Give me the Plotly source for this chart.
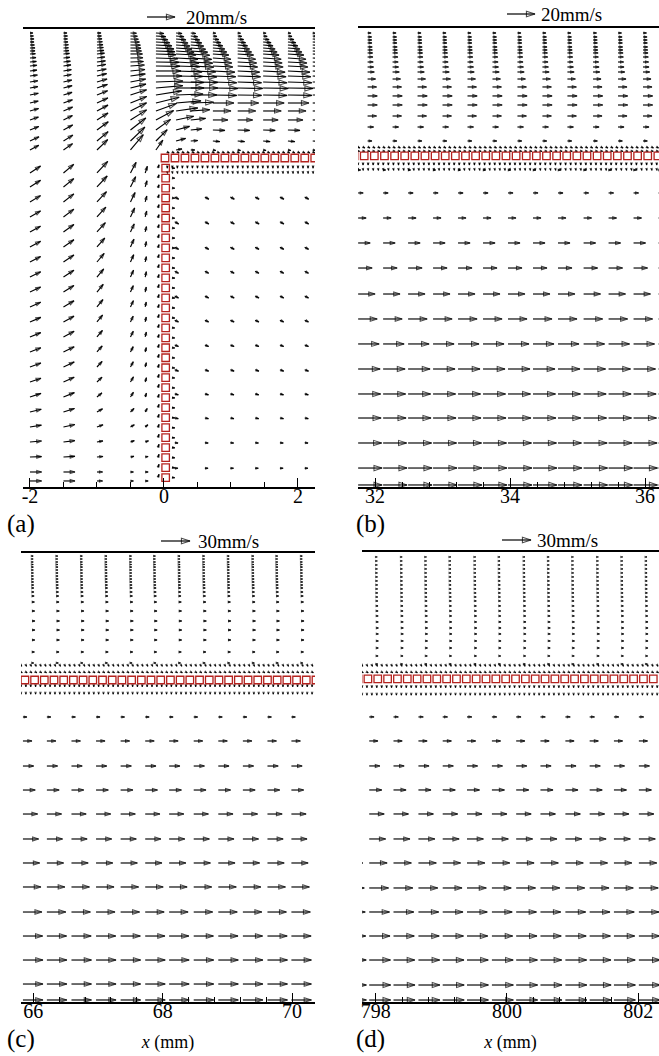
import math
import numpy as np
import plotly.graph_objects as go

W, H = 659, 1056
SERIF = "Liberation Serif, Times New Roman, Times, DejaVu Serif, serif"
INK = "#000000"
RED = "#b5231f"

# plot-area boxes in pixels: left, right, top, bottom
BOX = {"a": (23, 315, 29, 487), "b": (358, 659, 28, 487),
       "c": (21, 315, 553, 1002), "d": (362, 659, 552, 1002)}
XRANGE = {"a": (-2.104, 2.254), "b": (31.748, 36.207),
          "c": (65.81, 70.355), "d": (797.79, 802.317)}
# drawn arrow length (px) per 1 mm/s of velocity
PX_PER_SPEED = {"a": 28 / 20, "b": 28 / 20, "c": 29 / 30, "d": 29 / 30}
REF_SPEED = {"a": 20, "b": 20, "c": 30, "d": 30}

# ---------------------------------------------------------------- panel (a)
# flow above the plate level (rows near the free surface), x in mm
a_top_y = [6.776, 6.731, 6.687, 6.642, 6.597, 6.552, 6.507, 6.463, 6.403, 6.343, 6.284,
           6.209, 6.134, 6.045, 5.955, 5.851, 5.731, 5.612, 5.478, 5.328, 5.164, 5.030]
a_top_x = [-2.0, -1.5, -1.0, -0.5, -0.12, 0.18, 0.40, 0.73, 1.10, 1.48, 1.85, 2.22]
a_far_speed = [2.1, 2.9, 4.3, 5.7, 7.1, 8.6, 10.0, 11.4, 12.9, 13.6, 14.3,
               15.7, 16.4, 17.1, 17.9, 17.1, 15.0, 12.9, 10.7, 8.6, 5.0, 2.1]
a_far_angle = [-6, -6, -6, -5, -5, -5, -4, -4, -4, -3, -3,
               -3, -2, -2, -1, -1, 0, 0, 0, -2, -5, -10]
a_top_speed = [
    [2.1, 2.5, 2.9, 2.9, 3.2, 3.6, 3.6, 3.9, 4.3, 4.6, 5.0, 5.0, 5.4, 5.7, 5.7, 6.1, 6.1, 6.4, 6.4, 6.8, 7.1, 7.1],
    [2.5, 2.9, 2.9, 3.2, 3.6, 3.6, 3.9, 4.3, 4.6, 5.0, 5.4, 5.7, 5.7, 6.1, 6.4, 6.4, 6.8, 7.1, 7.1, 7.5, 7.9, 7.9],
    [2.9, 3.2, 3.6, 3.9, 4.3, 4.6, 5.0, 5.4, 5.7, 6.1, 6.4, 6.8, 7.1, 7.5, 7.9, 8.2, 8.6, 8.9, 9.3, 10.0, 10.4, 10.7],
    [4.3, 5.0, 5.7, 6.4, 7.1, 7.5, 7.9, 8.6, 8.9, 9.3, 10.0, 10.4, 10.7, 11.1, 11.4, 12.1, 12.5, 12.9, 13.6, 13.9, 14.3, 14.3],
    [5.7, 7.1, 8.6, 10.0, 11.4, 12.9, 13.6, 14.3, 15.7, 16.4, 17.1, 17.9, 18.6, 19.3, 19.3, 18.6, 17.1, 15.7, 14.3, 12.9, 11.4, 8.6],
    [4.3, 5.7, 7.1, 8.6, 10.0, 11.4, 12.9, 14.3, 15.7, 16.4, 17.1, 18.6, 19.3, 20.0, 20.0, 19.3, 17.9, 15.7, 12.9, 10.0, 7.1, 4.3],
    [3.6, 5.0, 6.4, 7.9, 9.3, 10.7, 12.1, 13.6, 15.0, 15.7, 16.4, 17.9, 18.6, 19.3, 19.3, 18.6, 16.4, 13.6, 10.7, 7.9, 5.0, 2.9],
    a_far_speed, a_far_speed, a_far_speed, a_far_speed, a_far_speed,
]
a_top_angle = [
    [0, 0, 0, 0, 0, 1, 2, 3, 4, 5, 6, 7, 8, 9, 10, 12, 14, 16, 19, 22, 25, 28],
    [0, 0, 0, 1, 2, 3, 4, 5, 6, 7, 8, 10, 11, 13, 15, 17, 20, 23, 26, 29, 32, 35],
    [0, 0, 1, 2, 3, 4, 5, 6, 7, 8, 10, 12, 14, 16, 19, 22, 25, 28, 32, 36, 40, 44],
    [-2, -2, -2, -1, -1, -1, 0, 0, 1, 2, 4, 6, 8, 11, 14, 18, 22, 27, 32, 38, 44, 50],
    [-4, -4, -4, -3, -3, -3, -2, -2, -2, -1, -1, 0, 0, 2, 5, 9, 14, 20, 28, 36, 45, 55],
    [-5, -5, -5, -5, -4, -4, -4, -3, -3, -3, -2, -2, -1, -1, 0, 2, 5, 8, 12, 15, 15, 10],
    [-6, -6, -6, -5, -5, -5, -4, -4, -4, -3, -3, -2, -2, -1, 0, 0, 2, 4, 6, 6, 4, 0],
    a_far_angle, a_far_angle, a_far_angle, a_far_angle, a_far_angle,
]
# inflow left of the vertical wall, below the plate level
a_low_y = [4.687, 4.478, 4.254, 4.030, 3.806, 3.582, 3.358, 3.134, 2.910, 2.687, 2.463,
           2.239, 2.015, 1.791, 1.567, 1.343, 1.119, 0.896, 0.672, 0.448, 0.224, 0.090]
a_low_x = [-2.0, -1.5, -1.0, -0.5, -0.28]
a_low_speed = [
    [9.0, 8.9, 8.8, 8.7, 8.6, 8.6, 8.5, 8.5, 8.4, 8.4, 8.4, 8.3, 8.3, 8.3, 8.3, 8.3, 8.3, 8.3, 8.3, 8.3, 8.3, 8.3],
    [9.6, 9.5, 9.4, 9.3, 9.2, 9.1, 9.0, 8.9, 8.8, 8.7, 8.6, 8.6, 8.5, 8.5, 8.4, 8.4, 8.3, 8.3, 8.2, 8.2, 8.2, 8.2],
    [11.3, 10.7, 10.0, 9.5, 9.0, 8.5, 8.0, 7.5, 7.1, 6.8, 6.4, 6.1, 5.7, 5.4, 5.0, 4.6, 4.6, 4.6, 4.3, 4.3, 4.0, 4.0],
    [8.6, 8.2, 7.5, 7.1, 6.4, 6.1, 5.7, 5.4, 5.0, 5.0, 4.6, 4.6, 4.3, 4.3, 4.3, 4.0, 3.6, 3.2, 2.9, 2.5, 2.1, 2.1],
    [5.0, 4.6, 4.3, 4.3, 4.0, 4.0, 3.9, 3.9, 3.6, 3.6, 3.6, 3.6, 3.2, 3.2, 3.2, 2.9, 2.9, 2.5, 2.5, 2.1, 2.1, 2.1],
]
a_low_angle = [
    [33, 32, 31, 30, 29, 28, 27, 26, 25, 24, 23, 22, 21, 20, 19, 18, 14, 9, 5, 2, 0, 0],
    [40, 39, 38, 37, 36, 35, 34, 33, 32, 30, 29, 28, 26, 25, 24, 22, 18, 12, 7, 3, 0, 0],
    [47, 47, 47, 48, 48, 49, 50, 50, 51, 51, 51, 50, 49, 47, 44, 40, 30, 20, 10, 5, 0, 0],
    [62, 63, 64, 65, 65, 66, 66, 66, 66, 65, 65, 64, 63, 62, 60, 58, 45, 30, 20, 10, 0, 0],
    [72, 74, 75, 76, 77, 78, 78, 78, 78, 78, 78, 77, 76, 75, 74, 72, 60, 40, 20, 10, 0, 0],
]
# slow region under the plate, right of the wall
a_under_x = [0.16, 0.61, 0.99, 1.36, 1.73, 2.10]
a_under_y = [4.33, 3.96, 3.58, 3.22, 2.85, 2.49, 2.12, 1.75, 1.39, 1.03, 0.66, 0.28]
a_under_speed = [3.3, 3.3, 3.2, 3.1, 3.1, 3.0, 2.9, 2.9, 2.7, 2.6, 2.4, 2.3]
a_under_angle = [-30, -30, -30, -28, -27, -25, -22, -20, -15, -10, -5, 0]
# plate particles: horizontal row and vertical wall
a_plate_y = 4.91
a_plate_x0, a_plate_n = 0.015, 16
a_wall_x = 0.025
a_wall_y0, a_wall_n = 4.76, 32
PLATE_STEP = 0.149
# fluid particles hugging the wall (left, right) and the plate (above, below)
a_wall_left = dict(x=-0.09, speed=2.5, angle=72)
a_wall_right = dict(x=0.12, speed=2.0, angle=-5)
a_near_y = [5.00, 4.79, 4.70]
a_near_speed = [1.5, 1.5, 1.0]
a_near_angle = [-30, -90, -80]
a_near_span = (0.05, 2.25)

# ---------------------------------------------------------------- panel (b)
b_upper_x = [31.89, 32.26, 32.63, 33.00, 33.37, 33.74, 34.11, 34.48, 34.85, 35.23, 35.60, 35.97]
b_upper_y = [6.726, 6.667, 6.622, 6.578, 6.519, 6.474, 6.430, 6.370, 6.296, 6.222, 6.148,
             6.044, 5.926, 5.793, 5.659, 5.496, 5.333, 5.126]
b_upper_u = [2.5, 2.9, 3.0, 3.1, 3.3, 3.4, 3.6, 3.8, 4.0, 4.3, 4.8, 5.7, 6.4, 6.9, 6.9, 6.4, 4.3, 3.1]
b_lower_x = [31.75, 32.12, 32.49, 32.86, 33.23, 33.60, 33.97, 34.34, 34.71, 35.09, 35.46, 35.83, 36.20]
b_lower_y = [4.696, 4.356, 3.985, 3.615, 3.244, 2.859, 2.489, 2.119, 1.748, 1.378, 1.022, 0.652, 0.281, 0.030]
b_lower_u = [1.8, 3.6, 5.7, 8.6, 10.0, 12.1, 13.6, 15.0, 15.7, 16.1, 16.4, 16.8, 17.1, 17.1]
b_plate_y, b_plate_x0, b_plate_n = 4.904, 31.69, 31
b_near_y = [5.037, 4.978, 4.800, 4.711]
b_near_speed = [1.5, 1.2, 1.5, 1.0]
b_near_angle = [-30, -15, -90, -80]

# ---------------------------------------------------------------- panel (c)
c_upper_x = [65.98, 66.36, 66.74, 67.12, 67.50, 67.87, 68.25, 68.63, 69.01, 69.39, 69.76, 70.14]
c_upper_y = [6.894, 6.848, 6.802, 6.763, 6.724, 6.678, 6.632, 6.585, 6.539, 6.493, 6.446,
             6.400, 6.338, 6.276, 6.183, 6.044, 5.890, 5.750, 5.596, 5.411, 5.241]
c_upper_u = [1.2, 1.2, 1.3, 1.3, 1.4, 1.4, 1.5, 1.5, 1.6, 1.7, 1.8, 1.9, 2.0, 2.2, 2.5, 2.8,
             3.0, 3.0, 2.9, 2.5, 1.8]
c_lower_x = [65.84, 66.21, 66.59, 66.97, 67.35, 67.73, 68.10, 68.48, 68.86, 69.24, 69.62, 69.99, 70.37]
c_lower_y = [4.406, 4.035, 3.648, 3.277, 2.906, 2.520, 2.149, 1.778, 1.391, 1.020, 0.649, 0.278, 0.031]
c_lower_u = [4.1, 9.3, 11.1, 12.7, 15.2, 16.2, 17.3, 18.6, 19.6, 20.4, 20.7, 20.7, 20.7]
c_plate_y, c_plate_x0, c_plate_n = 4.978, 65.87, 31
c_near_y = [5.209, 5.101, 4.900, 4.777]
c_near_speed = [1.5, 1.5, 1.8, 1.2]
c_near_angle = [-60, -30, -90, -90]

# ---------------------------------------------------------------- panel (d)
d_upper_x = [798.01, 798.39, 798.76, 799.13, 799.51, 799.88, 800.26, 800.63, 801.00, 801.38, 801.75, 802.12]
d_upper_y = [6.784, 6.723, 6.662, 6.601, 6.540, 6.479, 6.418, 6.357, 6.296, 6.235, 6.174,
             6.113, 6.037, 5.960, 5.884, 5.793, 5.701, 5.610, 5.503, 5.396, 5.274, 5.152]
d_upper_u = [0.8, 0.9, 0.9, 1.0, 1.0, 1.1, 1.1, 1.2, 1.2, 1.3, 1.4, 1.5, 1.6, 1.7, 1.8, 1.9,
             2.0, 2.0, 2.0, 1.9, 1.7, 1.3]
d_lower_x = [797.53, 797.90, 798.27, 798.65, 799.02, 799.39, 799.77, 800.14, 800.51, 800.89, 801.26, 801.63, 802.01]
d_lower_y = [4.345, 3.979, 3.598, 3.232, 2.866, 2.485, 2.119, 1.738, 1.372, 1.006, 0.640, 0.259, 0.030]
d_lower_u = [5.0, 9.0, 11.0, 13.0, 15.5, 17.0, 18.5, 20.0, 21.0, 21.5, 22.0, 22.2, 22.2]
d_plate_y, d_plate_x0, d_plate_n = 4.924, 797.73, 31
d_near_y = [5.137, 5.030, 4.817, 4.695]
d_near_speed = [1.5, 1.5, 1.8, 1.2]
d_near_angle = [-60, -30, -90, -90]

NEAR_STEP = 0.075
AX = {"a": "", "b": "2", "c": "3", "d": "4"}


def px_per_mm(p):
    l, r, t, b = BOX[p]
    x0, x1 = XRANGE[p]
    return (r - l) / (x1 - x0)


def y_top(p):
    l, r, t, b = BOX[p]
    return (b - t) / px_per_mm(p)


class Field:
    """Collects velocity vectors (tail position, speed components) for one panel."""

    def __init__(self, p):
        self.p = p
        self.items = []

    def add(self, x, y, u, v):
        self.items.append((x, y, u, v))

    def add_polar(self, x, y, s, ang):
        a = math.radians(ang)
        self.add(x, y, s * math.cos(a), s * math.sin(a))

    def trace(self):
        p = self.p
        k = PX_PER_SPEED[p] / px_per_mm(p)
        X, Y, S = [], [], []
        for x, y, u, v in self.items:
            L = math.hypot(u, v) * PX_PER_SPEED[p]
            X += [x, x + u * k, None]
            Y += [y, y + v * k, None]
            S += [0, min(8.5, 1.6 + 0.3 * L), 0]
        return go.Scatter(
            x=X, y=Y, mode="lines+markers",
            line=dict(color=INK, width=1.15),
            marker=dict(symbol="arrow-open", size=S, angleref="previous",
                        color=INK, line=dict(color=INK, width=1.05)),
            xaxis="x" + AX[p], yaxis="y" + AX[p],
            hoverinfo="skip", showlegend=False)


def plate_trace(p, xs, ys):
    return go.Scatter(
        x=xs, y=ys, mode="markers",
        marker=dict(symbol="square-open", size=7.5, color=RED, line=dict(color=RED, width=1.3)),
        xaxis="x" + AX[p], yaxis="y" + AX[p], hoverinfo="skip", showlegend=False)


def near_rows(f, span, ys, speeds, angles):
    xs = np.arange(span[0], span[1] + 1e-9, NEAR_STEP)
    for y, s, ang in zip(ys, speeds, angles):
        for x in xs:
            f.add_polar(x, y, s, ang)


traces = []

# ---- (a)
fa = Field("a")
for x, sp, an in zip(a_top_x, a_top_speed, a_top_angle):
    for y, s, ang in zip(a_top_y, sp, an):
        fa.add_polar(x, y, s, ang)
for x, sp, an in zip(a_low_x, a_low_speed, a_low_angle):
    for y, s, ang in zip(a_low_y, sp, an):
        fa.add_polar(x, y, s, ang)
for x in a_under_x:
    for y, s, ang in zip(a_under_y, a_under_speed, a_under_angle):
        fa.add_polar(x, y, s, ang)
wall_y = [a_wall_y0 - PLATE_STEP * i for i in range(a_wall_n)]
for y in wall_y:
    fa.add_polar(a_wall_left["x"], y, a_wall_left["speed"], a_wall_left["angle"])
    fa.add_polar(a_wall_right["x"], y, a_wall_right["speed"], a_wall_right["angle"])
near_rows(fa, a_near_span, a_near_y, a_near_speed, a_near_angle)
traces.append(fa.trace())
plate_x = [a_plate_x0 + PLATE_STEP * i for i in range(a_plate_n)]
traces.append(plate_trace("a", plate_x + [a_wall_x] * a_wall_n,
                          [a_plate_y] * a_plate_n + wall_y))

# ---- (b), (c), (d): developed channel flow
for p, ux, uy, uu, lx, ly, lu, ply, px0, pn, ny, ns, na in [
    ("b", b_upper_x, b_upper_y, b_upper_u, b_lower_x, b_lower_y, b_lower_u,
     b_plate_y, b_plate_x0, b_plate_n, b_near_y, b_near_speed, b_near_angle),
    ("c", c_upper_x, c_upper_y, c_upper_u, c_lower_x, c_lower_y, c_lower_u,
     c_plate_y, c_plate_x0, c_plate_n, c_near_y, c_near_speed, c_near_angle),
    ("d", d_upper_x, d_upper_y, d_upper_u, d_lower_x, d_lower_y, d_lower_u,
     d_plate_y, d_plate_x0, d_plate_n, d_near_y, d_near_speed, d_near_angle),
]:
    f = Field(p)
    for y, u in zip(uy, uu):
        for x in ux:
            f.add(x, y, u, 0.0)
    for y, u in zip(ly, lu):
        for x in lx:
            f.add(x, y, u, 0.0)
    near_rows(f, XRANGE[p], ny, ns, na)
    traces.append(f.trace())
    traces.append(plate_trace(p, [px0 + 0.15 * i for i in range(pn)], [ply] * pn))

# ---- scale arrows (drawn on a full-page pixel overlay)
legend_tail = {"a": (147, 17), "b": (507, 14), "c": (161, 541), "d": (502, 540)}
LX, LY, LS = [], [], []
for p, (tx, ty) in legend_tail.items():
    L = REF_SPEED[p] * PX_PER_SPEED[p]
    LX += [tx, tx + L, None]
    LY += [ty, ty, None]
    LS += [0, 9, 0]
traces.append(go.Scatter(
    x=LX, y=LY, mode="lines+markers", line=dict(color=INK, width=1.2),
    marker=dict(symbol="arrow-open", size=LS, angleref="previous", color=INK,
                line=dict(color=INK, width=1.1)),
    xaxis="x5", yaxis="y5", hoverinfo="skip", showlegend=False))

fig = go.Figure(traces)

layout = dict(width=W, height=H, margin=dict(l=0, r=0, t=0, b=0),
              paper_bgcolor="white", plot_bgcolor="rgba(0,0,0,0)", showlegend=False)

tick_setup = {"a": (-2, 0.5, ["-2", "0", "2"], [-2, 0, 2]),
              "b": (32, 0.4, ["32", "34", "36"], [32, 34, 36]),
              "c": (66, 0.4, ["66", "68", "70"], [66, 68, 70]),
              "d": (798, 0.4, ["798", "800", "802"], [798, 800, 802])}
for p in "abcd":
    l, r, t, b = BOX[p]
    t0, mdt, ttext, tvals = tick_setup[p]
    xa = dict(domain=[l / W, r / W], range=list(XRANGE[p]), anchor="y" + AX[p],
              showline=True, linecolor="black", linewidth=1.6, mirror=True,
              tickmode="array", tickvals=tvals, ticktext=ttext,
              ticks="inside", ticklen=9, tickwidth=1.1, tickcolor="black",
              ticklabelstandoff=-10,
              showgrid=False, zeroline=False, fixedrange=True,
              minor=dict(tick0=t0, dtick=mdt, ticks="inside", ticklen=5, tickwidth=1,
                         tickcolor="black", showgrid=False),
              tickfont=dict(family=SERIF, size=20, color="black"))
    if p in "cd":
        xa["title"] = dict(text="<i>x</i> (mm)", font=dict(family=SERIF, size=18, color="black"),
                           standoff=15)
    ya = dict(domain=[1 - b / H, 1 - t / H], range=[0, y_top(p)], anchor="x" + AX[p],
              visible=False, fixedrange=True)
    layout["xaxis" + AX[p]] = xa
    layout["yaxis" + AX[p]] = ya

layout["xaxis5"] = dict(domain=[0, 1], range=[0, W], anchor="y5", visible=False, fixedrange=True)
layout["yaxis5"] = dict(domain=[0, 1], range=[H, 0], anchor="x5", visible=False, fixedrange=True)

ann = []
legend_text = {"a": (184, 17, "20mm/s"), "b": (539, 15, "20mm/s"),
               "c": (196, 541, "30mm/s"), "d": (535, 540, "30mm/s")}
for p, (x, y, txt) in legend_text.items():
    ann.append(dict(x=x / W, y=1 - y / H, xref="paper", yref="paper", text=txt, showarrow=False,
                    xanchor="left", yanchor="middle", font=dict(family=SERIF, size=19, color="black")))
panel_label = {"a": (5, 524), "b": (354, 524), "c": (5, 1039), "d": (354, 1039)}
for p, (x, y) in panel_label.items():
    ann.append(dict(x=x / W, y=1 - y / H, xref="paper", yref="paper", text="(%s)" % p, showarrow=False,
                    xanchor="left", yanchor="middle", font=dict(family=SERIF, size=25, color="black")))
layout["annotations"] = ann

fig.update_layout(**layout)
fig.write_html("out.html")
